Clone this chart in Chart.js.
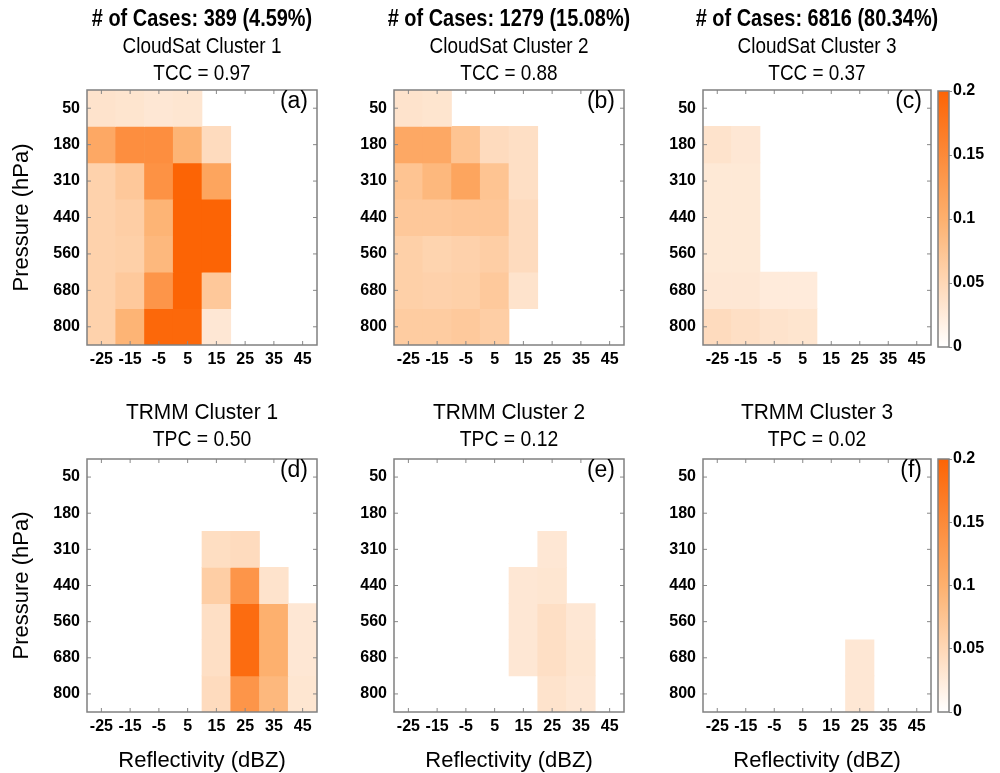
<!DOCTYPE html>
<html>
<head>
<meta charset="utf-8">
<script src="https://cdn.jsdelivr.net/npm/chart.js@4.4.0/dist/chart.umd.min.js"></script>
<style>
body{margin:0;background:#fff;width:1000px;height:773px;position:relative;overflow:hidden}
canvas{position:absolute}
</style>
</head>
<body>
<canvas id="pa"></canvas><canvas id="pb"></canvas><canvas id="pc"></canvas>
<canvas id="pd"></canvas><canvas id="pe"></canvas><canvas id="pf"></canvas>
<canvas id="cb1"></canvas><canvas id="cb2"></canvas>
<script>
// axes
const reflectivity = ['-25','-15','-5','5','15','25','35','45']
const pressure = ['50','180','310','440','560','680','800']
const colorTicks = [0, 0.05, 0.1, 0.15, 0.2]

// cell values, one row per pressure level, one column per reflectivity bin (null = empty)
const cloudsat1 = [
[0.035,0.033,0.030,0.032,null,null,null,null],
[0.110,0.145,0.145,0.095,0.045,null,null,null],
[0.057,0.070,0.140,0.200,0.115,null,null,null],
[0.057,0.062,0.095,0.200,0.200,null,null,null],
[0.057,0.060,0.090,0.200,0.200,null,null,null],
[0.057,0.068,0.135,0.200,0.070,null,null,null],
[0.057,0.095,0.195,0.195,0.030,null,null,null]
]
const cloudsat2 = [
[0.035,0.033,null,null,null,null,null,null],
[0.110,0.110,0.075,0.045,0.040,null,null,null],
[0.075,0.090,0.115,0.075,0.040,null,null,null],
[0.070,0.070,0.072,0.072,0.045,null,null,null],
[0.060,0.055,0.058,0.062,0.045,null,null,null],
[0.060,0.058,0.060,0.068,0.035,null,null,null],
[0.065,0.065,0.068,0.062,null,null,null,null]
]
const cloudsat3 = [
[null,null,null,null,null,null,null,null],
[0.035,0.030,null,null,null,null,null,null],
[0.028,0.028,null,null,null,null,null,null],
[0.028,0.028,null,null,null,null,null,null],
[0.028,0.028,null,null,null,null,null,null],
[0.030,0.030,0.025,0.025,null,null,null,null],
[0.045,0.040,0.035,0.033,null,null,null,null]
]
const trmm1 = [
[null,null,null,null,null,null,null,null],
[null,null,null,null,null,null,null,null],
[null,null,null,null,0.042,0.045,null,null],
[null,null,null,null,0.062,0.135,0.035,null],
[null,null,null,null,0.040,0.190,0.100,0.030],
[null,null,null,null,0.040,0.190,0.100,0.030],
[null,null,null,null,0.045,0.135,0.090,0.032]
]
const trmm2 = [
[null,null,null,null,null,null,null,null],
[null,null,null,null,null,null,null,null],
[null,null,null,null,null,0.030,null,null],
[null,null,null,null,0.030,0.032,null,null],
[null,null,null,null,0.030,0.040,0.030,null],
[null,null,null,null,0.030,0.040,0.032,null],
[null,null,null,null,null,0.035,0.030,null]
]
const trmm3 = [
[null,null,null,null,null,null,null,null],
[null,null,null,null,null,null,null,null],
[null,null,null,null,null,null,null,null],
[null,null,null,null,null,null,null,null],
[null,null,null,null,null,null,null,null],
[null,null,null,null,null,0.030,null,null],
[null,null,null,null,null,0.030,null,null]
]

const FONT = "'Liberation Sans', Arial, sans-serif"
Chart.defaults.color = '#000'
Chart.defaults.font.family = FONT
Chart.defaults.animation = false

// white -> peach -> orange
const cmap = [[0, [255,255,255]], [0.5, [253,176,110]], [1, [252,100,5]]]
function colorOf(v) {
  const t = Math.max(0, Math.min(1, v / 0.2))
  for (let k = 1; k < cmap.length; k++) {
    if (t <= cmap[k][0]) {
      const [t0, c0] = cmap[k-1], [t1, c1] = cmap[k]
      const f = (t - t0) / (t1 - t0)
      const c = c0.map((x, j) => Math.round(x + (c1[j] - x) * f))
      return `rgb(${c[0]},${c[1]},${c[2]})`
    }
  }
}

// plot frame, inward tick marks and panel letter
const framePlugin = {
  id: 'frame',
  afterDraw(chart, args, o) {
    const {ctx, chartArea: a} = chart
    ctx.save()
    if (o.ticks) {
      ctx.strokeStyle = '#888'
      ctx.lineWidth = 1
      ctx.beginPath()
      const xs = chart.scales.x, ys = chart.scales.y
      xs.ticks.forEach((t, i) => {
        const px = xs.getPixelForTick(i)
        ctx.moveTo(px, a.bottom); ctx.lineTo(px, a.bottom - 4)
        ctx.moveTo(px, a.top); ctx.lineTo(px, a.top + 4)
      })
      ys.ticks.forEach((t, i) => {
        const py = ys.getPixelForTick(i)
        ctx.moveTo(a.left, py); ctx.lineTo(a.left + 4, py)
        ctx.moveTo(a.right, py); ctx.lineTo(a.right - 4, py)
      })
      ctx.stroke()
    }
    ctx.strokeStyle = '#808080'
    ctx.lineWidth = 1.5
    ctx.strokeRect(a.left, a.top, a.right - a.left, a.bottom - a.top)
    if (o.letter) {
      ctx.fillStyle = '#000'
      ctx.font = '23px ' + FONT
      ctx.textAlign = 'right'
      ctx.textBaseline = 'top'
      ctx.fillText(o.letter, a.right - 9, a.top + 0)
    }
    ctx.restore()
  }
}

// condensed heading lines centred over the plot area
const headingPlugin = {
  id: 'heading',
  afterDraw(chart, args, o) {
    if (!o.lines) return
    const {ctx, chartArea: a} = chart
    const cx = (a.left + a.right) / 2
    o.lines.forEach(l => {
      ctx.save()
      ctx.fillStyle = '#000'
      ctx.font = l.font
      ctx.textAlign = 'center'
      ctx.textBaseline = 'middle'
      ctx.translate(cx, l.y)
      ctx.scale(l.sx, 1)
      ctx.fillText(l.text, 0, 0)
      ctx.restore()
    })
  }
}

const cols = [{left: 0, yw: 87, pw: 230}, {left: 334, yw: 60, pw: 230}, {left: 643, yw: 60, pw: 228}]
const rows = [{top: 0, h: 380, xh: 35, pad: 90}, {top: 400, h: 373, xh: 61, pad: 59}]

function panel(id, c, r, grid, heads, letter) {
  const col = cols[c], row = rows[r]
  const cv = document.getElementById(id)
  cv.width = col.yw + col.pw + 20; cv.height = row.h
  cv.style.left = col.left + 'px'; cv.style.top = row.top + 'px'
  const top = r === 0
  const lines = top ? [
    {text: heads[0], y: 19, font: 'bold 24px ' + FONT, sx: 0.83},
    {text: heads[1], y: 47, font: '22px ' + FONT, sx: 0.86},
    {text: heads[2], y: 74, font: '22px ' + FONT, sx: 0.86}
  ] : [
    {text: heads[0], y: 13, font: '22px ' + FONT, sx: 0.95},
    {text: heads[1], y: 40, font: '22px ' + FONT, sx: 0.88}
  ]
  new Chart(cv, {
    type: 'bar',
    data: {
      labels: reflectivity,
      datasets: pressure.map((p, i) => ({
        data: grid[i].map(v => v == null ? null : [i - 0.5, i + 0.5]),
        backgroundColor: grid[i].map(v => v == null ? 'rgba(0,0,0,0)' : colorOf(v)),
        borderWidth: 0,
        barPercentage: 1,
        categoryPercentage: 1,
        grouped: false
      }))
    },
    options: {
      responsive: false,
      layout: {padding: {left: 0, right: 20, top: row.pad, bottom: 0}},
      plugins: {
        legend: {display: false},
        tooltip: {enabled: false},
        frame: {ticks: true, letter: letter},
        heading: {lines: lines}
      },
      scales: {
        x: {
          type: 'category', offset: true,
          grid: {display: false, drawTicks: false},
          border: {display: false},
          ticks: {font: {size: 16, weight: 'bold'}, padding: 5, maxRotation: 0, autoSkip: false},
          title: {display: !top, text: 'Reflectivity (dBZ)', font: {size: 22, lineHeight: 1.1}, padding: {top: 0, bottom: 0}},
          afterFit: s => { s.height = row.xh }
        },
        y: {
          type: 'linear', reverse: true, min: -0.5, max: 6.5,
          grid: {display: false, drawTicks: false},
          border: {display: false},
          afterBuildTicks: s => { s.ticks = pressure.map((p, i) => ({value: i})) },
          ticks: {font: {size: 16, weight: 'bold'}, padding: 7, callback: v => pressure[v]},
          title: {display: c === 0, text: 'Pressure (hPa)', font: {size: 22}, padding: {top: 9, bottom: 0}},
          afterFit: s => { s.width = col.yw }
        }
      }
    },
    plugins: [framePlugin, headingPlugin]
  })
}

function colorbar(id, top, padTop, padBottom) {
  const cv = document.getElementById(id)
  cv.width = 70; cv.height = 280
  cv.style.left = '930px'; cv.style.top = top + 'px'
  new Chart(cv, {
    type: 'bar',
    data: {
      labels: [''],
      datasets: [{
        data: [[colorTicks[0], colorTicks[colorTicks.length - 1]]],
        backgroundColor: ctx => {
          const a = ctx.chart.chartArea
          if (!a) return null
          const g = ctx.chart.ctx.createLinearGradient(0, a.bottom, 0, a.top)
          for (let k = 0; k <= 10; k++) g.addColorStop(k / 10, colorOf(0.2 * k / 10))
          return g
        },
        borderWidth: 0, barPercentage: 1, categoryPercentage: 1
      }]
    },
    options: {
      responsive: false,
      layout: {padding: {left: 8, right: 0, top: padTop, bottom: padBottom}},
      plugins: {legend: {display: false}, tooltip: {enabled: false}, frame: {}},
      scales: {
        x: {display: false},
        y: {
          position: 'right', min: 0, max: 0.2,
          afterBuildTicks: s => { s.ticks = colorTicks.map(v => ({value: v})) },
          grid: {display: true, drawOnChartArea: false, drawTicks: true, tickLength: 3, color: '#888'},
          border: {display: false},
          ticks: {font: {size: 16, weight: 'bold'}, padding: 1, callback: v => String(v)},
          afterFit: s => { s.width = 51 }
        }
      }
    },
    plugins: [framePlugin]
  })
}

panel('pa', 0, 0, cloudsat1, ['# of Cases: 389 (4.59%)', 'CloudSat Cluster 1', 'TCC = 0.97'], '(a)')
panel('pb', 1, 0, cloudsat2, ['# of Cases: 1279 (15.08%)', 'CloudSat Cluster 2', 'TCC = 0.88'], '(b)')
panel('pc', 2, 0, cloudsat3, ['# of Cases: 6816 (80.34%)', 'CloudSat Cluster 3', 'TCC = 0.37'], '(c)')
panel('pd', 0, 1, trmm1, ['TRMM Cluster 1', 'TPC = 0.50'], '(d)')
panel('pe', 1, 1, trmm2, ['TRMM Cluster 2', 'TPC = 0.12'], '(e)')
panel('pf', 2, 1, trmm3, ['TRMM Cluster 3', 'TPC = 0.02'], '(f)')
colorbar('cb1', 80, 11, 13)
colorbar('cb2', 448, 11, 16)
</script>
</body>
</html>
